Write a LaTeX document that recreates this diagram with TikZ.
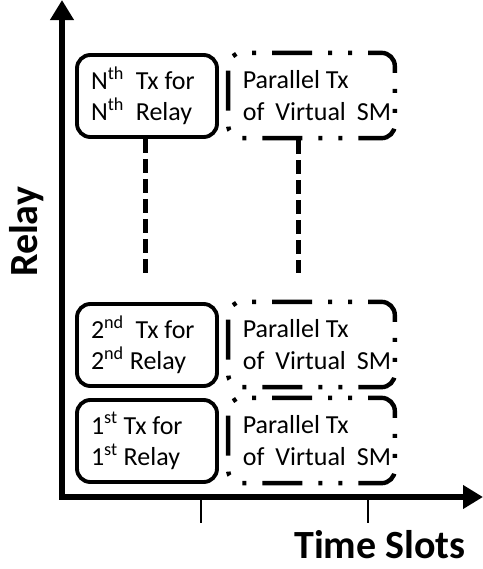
\documentclass[tikz,border=0pt]{standalone}
\usepackage{fontspec}
\setmainfont{Carlito}
\usetikzlibrary{arrows.meta}

\newcommand{\partxt}{\hspace*{8pt}Parallel Tx\\\hspace*{8pt}\mbox{of\hspace{0.42em}Virtual\hspace{0.42em}SM}}

\begin{document}
\begin{tikzpicture}[x=0.75pt,y=0.75pt,yscale=-1,xscale=1,
  txbox/.style={draw, line width=2.9pt, rounded corners=10pt, minimum width=105pt, minimum height=61.5pt, text width=84pt, inner xsep=10.5pt, align=flush left, font=\fontsize{19.5}{23.5}\selectfont},
  parbox/.style={draw, line width=3.3pt, rounded corners=10pt, dash pattern=on 30pt off 12pt on 3pt off 12pt on 3pt off 12pt, dash phase=20pt, minimum width=125pt, minimum height=64pt, text width=119pt, inner xsep=3pt, align=flush left, font=\fontsize{19.5}{23.5}\selectfont},
  gapline/.style={line width=3.75pt, dash pattern=on 10.5pt off 4.5pt},
  axisline/.style={line width=4.5pt, {Triangle[length=15pt,width=17pt]}-{Triangle[length=15pt,width=17pt]}},
  tickline/.style={line width=1.5pt},
  axislabel/.style={font=\fontsize{30}{36}\selectfont\bfseries}]
\path[use as bounding box] (0,0) rectangle (483,569);

% axes
\coordinate (orig) at (62,497);
\coordinate (ytop) at (62,0);
\coordinate (xend) at (483,497);
\draw[axisline] (ytop) -- (orig) -- (xend);
\coordinate (tick1) at (201,500);
\coordinate (tick2) at (368,500);
\draw[tickline] (tick1) -- ++(0,23);
\draw[tickline] (tick2) -- ++(0,23);

% axis labels
\node[axislabel, rotate=90] (ylab) at (27,232) {Relay};
\node[axislabel] (xlab) at (380,545) {Time Slots};

% Nth relay
\node[txbox] (txN) at (147,96) {N\textsuperscript{th}\ \ Tx for\\N\textsuperscript{th}\ \ Relay};
\node[parbox] (parN) at (311.5,95.5) {\partxt};

% 2nd relay
\node[txbox] (tx2) at (147,345) {2\textsuperscript{nd}\ \ Tx for\\2\textsuperscript{nd} Relay};
\node[parbox] (par2) at (311.5,344.5) {\partxt};

% 1st relay
\node[txbox] (tx1) at (147,441) {1\textsuperscript{st} Tx for\\1\textsuperscript{st} Relay};
\node[parbox] (par1) at (311.5,440.5) {\partxt};

% dots between rows
\coordinate (gapL) at (145,273);
\coordinate (gapR) at (298,273);
\draw[gapline] (txN.south -| gapL) -- (gapL);
\draw[gapline] (parN.south -| gapR) -- (gapR);

\end{tikzpicture}
\end{document}
